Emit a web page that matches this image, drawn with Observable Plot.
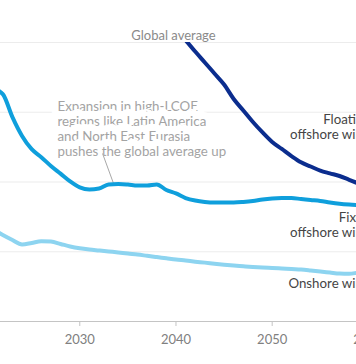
<!DOCTYPE html>
<html><head><meta charset="utf-8">
<script src="https://cdn.jsdelivr.net/npm/d3@7"></script>
<script src="https://cdn.jsdelivr.net/npm/@observablehq/plot@0.6"></script>
<style>
html,body{margin:0;padding:0;background:#fff;overflow:hidden;width:356px;height:364px}
#chart svg{max-width:none !important}
</style>
</head><body><div id="chart"></div>
<script>
const years = [2021,2022,2023,2024,2025,2026,2027,2028,2029,2030,2031,2032,2033,2034,2035,2036,2037,2038,2039,2040,2041,2042,2043,2044,2045,2046,2047,2048,2049,2050,2051,2052,2053,2054,2055,2056,2057,2058,2059,2060];
const fixedOffshore = [167,163,146.5,133,123.5,117.8,111.5,106,100.4,96.1,94.6,95.3,98.2,98.6,98.2,97.5,97.5,98.2,94.3,91.8,88.5,86.7,85.7,85.3,85.3,85.3,85.7,86.4,87.5,88.2,88.5,88.5,87.8,87.1,86.4,85.3,84.4,83.8,83.4,83.1];
const onshore = [66,62,58.4,55.2,56.3,57.6,57.3,55.6,53.8,52.5,51.6,50.9,50.2,49.5,48.7,48,47.1,46.2,45.3,44.4,43.7,42.9,42.2,41.4,40.7,40.1,39.6,39.1,38.7,38.4,38,37.6,37.3,36.6,35.8,35.1,34.4,34.2,35.1,35.5];
const floatingYears = [2038,2039,2040,2041,2042,2043,2044,2045,2046,2047,2048,2049,2050,2051,2052,2053,2054,2055,2056,2057,2058,2059,2060];
const floatingOffshore = [226,218,210,201.7,193.5,185.7,177.8,169.9,159.5,151.3,143,135.5,128.7,123.7,118.6,114.1,111.1,108.2,106.2,104.3,101.6,98.9,96.8];
const xTicks = [2030,2040,2050,2060];
const yGrid = [50,100,150,200];

const labels = [
  {text:"Floating\noffshore wind", year:2060.2, value:139.9},
  {text:"Fixed\noffshore wind", year:2060.2, value:69.4},
  {text:"Onshore wind", year:2060.2, value:27.2}
];
const annotation = [{text:"Expansion in high-LCOE\nregions like Latin America\nand North East Eurasia\npushes the global average up", year:2027.68, value:138}];
const leader = [{year1:2032.37, value1:120.4, year2:2033.51, value2:98.9}];
const title = [{text:"Global average", year:2039.74}];

const series = [
  {name:"Onshore", color:"#8dd4f0", x: years, y: onshore},
  {name:"Fixed", color:"#0f9fdc", x: years, y: fixedOffshore},
  {name:"Floating", color:"#0b2d8e", x: floatingYears, y: floatingOffshore}
];
const rows = series.flatMap(s => s.x.map((yr,i) => ({series:s.name, year:yr, value:s.y[i]})));

const chart = Plot.plot({
  width: 390,
  height: 364,
  marginLeft: 0,
  marginRight: 0,
  marginTop: 42,
  marginBottom: 43,
  style: {fontFamily: "Lato, 'Open Sans', sans-serif", background: "white", maxWidth: "none"},
  x: {domain: [2021.76, 2062.3], axis: null},
  y: {domain: [0, 200], axis: null},
  color: {domain: series.map(s=>s.name), range: series.map(s=>s.color)},
  marks: [
    Plot.ruleY(yGrid, {stroke: "#ececec", strokeWidth: 1.2}),
    Plot.text(annotation, {x:"year", y:"value", text:"text", textAnchor:"start", lineAnchor:"middle", fill:"#a3a3a3", fontSize:13.3, lineHeight:1.13, stroke:"white", strokeWidth:14, strokeLinejoin:"round"}),
    Plot.link(leader, {x1:"year1", y1:"value1", x2:"year2", y2:"value2", stroke:"#a8a8a8", strokeWidth:1}),
    Plot.ruleY([0], {stroke: "#c4c4c4", strokeWidth: 1.2}),
    Plot.axisX({ticks: xTicks, tickFormat: d => String(d), tickSize: 5, tickPadding: 8, stroke: "#c4c4c4", fill: "#808080", fontSize: 13}),
    Plot.line(rows, {x:"year", y:"value", z:"series", stroke:"series", strokeWidth:4, curve:"monotone-x", clip:true}),
    Plot.text(labels, {x:"year", y:"value", text:"text", textAnchor:"end", lineAnchor:"middle", fill:"#454545", fontSize:13.3, lineHeight:1.13}),
    Plot.text(title, {x:"year", text:"text", frameAnchor:"top", dy:-12, fill:"#8a8a8a", fontSize:13})
  ]
});
document.getElementById("chart").appendChild(chart);
</script>
</body></html>
